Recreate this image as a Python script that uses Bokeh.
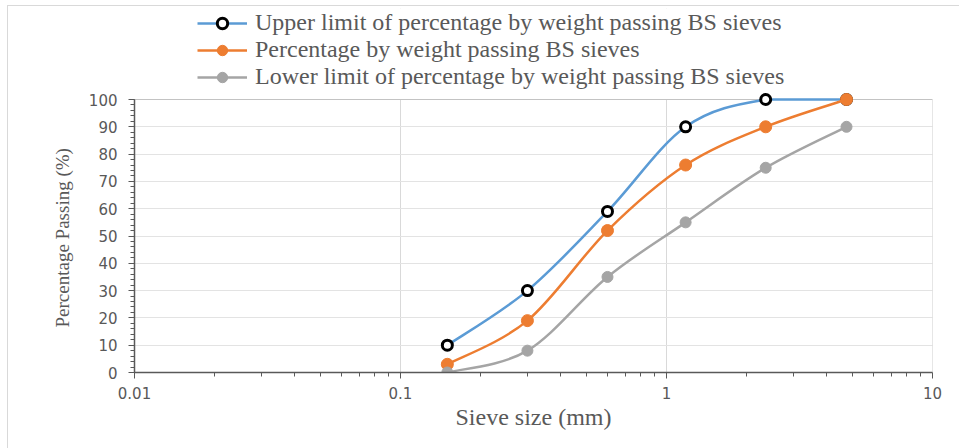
import numpy as np
from bokeh.plotting import figure
from bokeh.models import (FixedTicker, CustomJSTickFormatter, Legend, LegendItem,
                          ColumnDataSource, Range1d, BoxAnnotation, Title)
from bokeh.embed import file_html
from bokeh.resources import INLINE

# Sieve analysis data (BS sieves)
sieve_mm = [0.15, 0.3, 0.6, 1.18, 2.36, 4.75]
upper_limit = [10, 30, 59, 90, 100, 100]
passing = [3, 19, 52, 76, 90, 100]
lower_limit = [0, 8, 35, 55, 75, 90]

x_major_ticks = [0.01, 0.1, 1, 10]
y_ticks = [0, 10, 20, 30, 40, 50, 60, 70, 80, 90, 100]

label_upper = "Upper limit of percentage by weight passing BS sieves"
label_passing = "Percentage by weight passing BS sieves"
label_lower = "Lower limit of percentage by weight passing BS sieves"
x_title = "Sieve size (mm)"
y_title = "Percentage Passing (%)"

BLUE = "#5b9bd5"
ORANGE = "#ed7d31"
GREY = "#a5a5a5"
TEXT = "#595959"
FRAME = "#595959"

X_MIN, X_MAX = 0.01, 10
Y_MIN, Y_MAX = 0, 100

# layout (pixels): the frame also holds the legend strip above the 0-100 box
FIG_W, FIG_H = 952, 443
BORDER_L, BORDER_R, BORDER_T, BORDER_B = 126, 28, 2, 77
FRAME_H = FIG_H - BORDER_T - BORDER_B
BOX_H = 273                       # pixel height of the 0-100 data box
y_top = Y_MAX * FRAME_H / BOX_H    # range top so that 100 sits at the box top
Y_TITLE_LEN = 183                 # approx. pixel length of the rotated y title
# start of the y title, measured up from the frame bottom, so it is centred on the box
y_title_offset = (BOX_H - Y_TITLE_LEN) / 2


def smooth_segments(xs, ys, t=1.0 / 6.0):
    """Cubic Bezier segments (Catmull-Rom style) through the points,
    built in log10(x) space so the curve looks smooth on a log axis."""
    lx = np.log10(np.asarray(xs, dtype=float))
    yy = np.asarray(ys, dtype=float)
    n = len(lx)
    clamp = lambda v: min(max(v, Y_MIN), Y_MAX)
    seg = dict(x0=[], y0=[], x1=[], y1=[], cx0=[], cy0=[], cx1=[], cy1=[])
    for i in range(n - 1):
        i_prev = max(i - 1, 0)
        i_next = min(i + 2, n - 1)
        c0x = lx[i] + (lx[i + 1] - lx[i_prev]) * t
        c0y = clamp(yy[i] + (yy[i + 1] - yy[i_prev]) * t)
        c1x = lx[i + 1] - (lx[i_next] - lx[i]) * t
        c1y = clamp(yy[i + 1] - (yy[i_next] - yy[i]) * t)
        seg["x0"].append(10 ** lx[i]); seg["y0"].append(yy[i])
        seg["x1"].append(10 ** lx[i + 1]); seg["y1"].append(yy[i + 1])
        seg["cx0"].append(10 ** c0x); seg["cy0"].append(c0y)
        seg["cx1"].append(10 ** c1x); seg["cy1"].append(c1y)
    return ColumnDataSource(seg)


p = figure(width=FIG_W, height=FIG_H, x_axis_type="log",
           x_range=Range1d(X_MIN, X_MAX), y_range=Range1d(Y_MIN, y_top),
           output_backend="svg", toolbar_location=None,
           min_border_left=BORDER_L, min_border_right=BORDER_R,
           min_border_top=BORDER_T, min_border_bottom=BORDER_B)
p.margin = (5, 0, 0, 7)
p.styles = {"border-left": "1px solid #d9d9d9", "border-top": "1px solid #d9d9d9"}
p.outline_line_color = None

# grid
p.xgrid.ticker = FixedTicker(ticks=x_major_ticks)
p.xgrid.grid_line_color = "#d9d9d9"
p.xgrid.minor_grid_line_color = "#efefef"
p.ygrid.grid_line_color = "#e3e3e3"

# blank strip above the data box (hides grid lines there) and the box outline
p.add_layout(BoxAnnotation(bottom=Y_MAX, fill_color="white", fill_alpha=1.0,
                           line_color=None, level="underlay"))
p.add_layout(BoxAnnotation(left=X_MIN, right=X_MAX, bottom=Y_MIN, top=Y_MAX,
                           fill_alpha=0, line_color=FRAME, line_width=1,
                           level="underlay"))

# x axis
minor_x = [m * d for d in [0.01, 0.1, 1] for m in range(2, 10)]
p.xaxis.ticker = FixedTicker(ticks=x_major_ticks, minor_ticks=minor_x)
p.xaxis.formatter = CustomJSTickFormatter(code="return tick.toString();")
p.xaxis.axis_label = x_title
p.xaxis.major_label_standoff = 8
p.xaxis.axis_label_standoff = 2

# y axis
p.yaxis.ticker = FixedTicker(ticks=y_ticks,
                             minor_ticks=[v for v in range(0, 101, 2)])
p.yaxis.bounds = (Y_MIN, Y_MAX)
p.yaxis.major_label_standoff = 11

for ax in (p.xaxis, p.yaxis):
    ax.axis_line_color = FRAME
    ax.axis_line_width = 1.5
    ax.major_tick_line_color = FRAME
    ax.minor_tick_line_color = FRAME
    ax.major_tick_in = 0
    ax.major_tick_out = 6
    ax.minor_tick_in = 0
    ax.minor_tick_out = 4
    ax.major_label_text_font = "DejaVu Sans"
    ax.major_label_text_font_size = "15px"
    ax.major_label_text_color = TEXT
    ax.axis_label_text_font = "Liberation Serif"
    ax.axis_label_text_font_style = "normal"
    ax.axis_label_text_color = TEXT
p.xaxis.axis_label_text_font_size = "24px"

# y title as a side title so it can be centred on the 0-100 box
p.add_layout(Title(text=y_title, align="left", offset=y_title_offset,
                   text_font="Liberation Serif", text_font_size="19px",
                   text_font_style="normal", text_color=TEXT,
                   standoff=26), "left")

# series, drawn upper first so the lower limit sits on top
src_u = smooth_segments(sieve_mm, upper_limit)
src_p = smooth_segments(sieve_mm, passing)
src_l = smooth_segments(sieve_mm, lower_limit)

bez = dict(x0="x0", y0="y0", x1="x1", y1="y1", cx0="cx0", cy0="cy0",
           cx1="cx1", cy1="cy1", line_width=2.5)
r_u_line = p.bezier(source=src_u, line_color=BLUE, **bez)
r_u_pts = p.scatter(sieve_mm, upper_limit, size=10, fill_color="white",
                    line_color="black", line_width=3)

r_p_line = p.bezier(source=src_p, line_color=ORANGE, **bez)
r_p_pts = p.scatter(sieve_mm, passing, size=12, fill_color=ORANGE,
                    line_color=ORANGE, line_width=1)

r_l_line = p.bezier(source=src_l, line_color=GREY, **bez)
r_l_pts = p.scatter(sieve_mm, lower_limit, size=11, fill_color=GREY,
                    line_color=GREY, line_width=1)

legend = Legend(items=[
    LegendItem(label=label_upper, renderers=[r_u_line, r_u_pts]),
    LegendItem(label=label_passing, renderers=[r_p_line, r_p_pts]),
    LegendItem(label=label_lower, renderers=[r_l_line, r_l_pts]),
], location=(63, 282), orientation="vertical")
legend.padding = 0
legend.margin = 0
legend.spacing = 0
legend.glyph_width = 50
legend.glyph_height = 26
legend.label_height = 26
legend.label_standoff = 8
legend.label_text_font = "Liberation Serif"
legend.label_text_font_size = "24px"
legend.label_text_color = TEXT
legend.label_text_baseline = "middle"
legend.border_line_color = None
legend.background_fill_alpha = 0
p.add_layout(legend, "center")

open("out.html", "w").write(file_html(p, INLINE))
